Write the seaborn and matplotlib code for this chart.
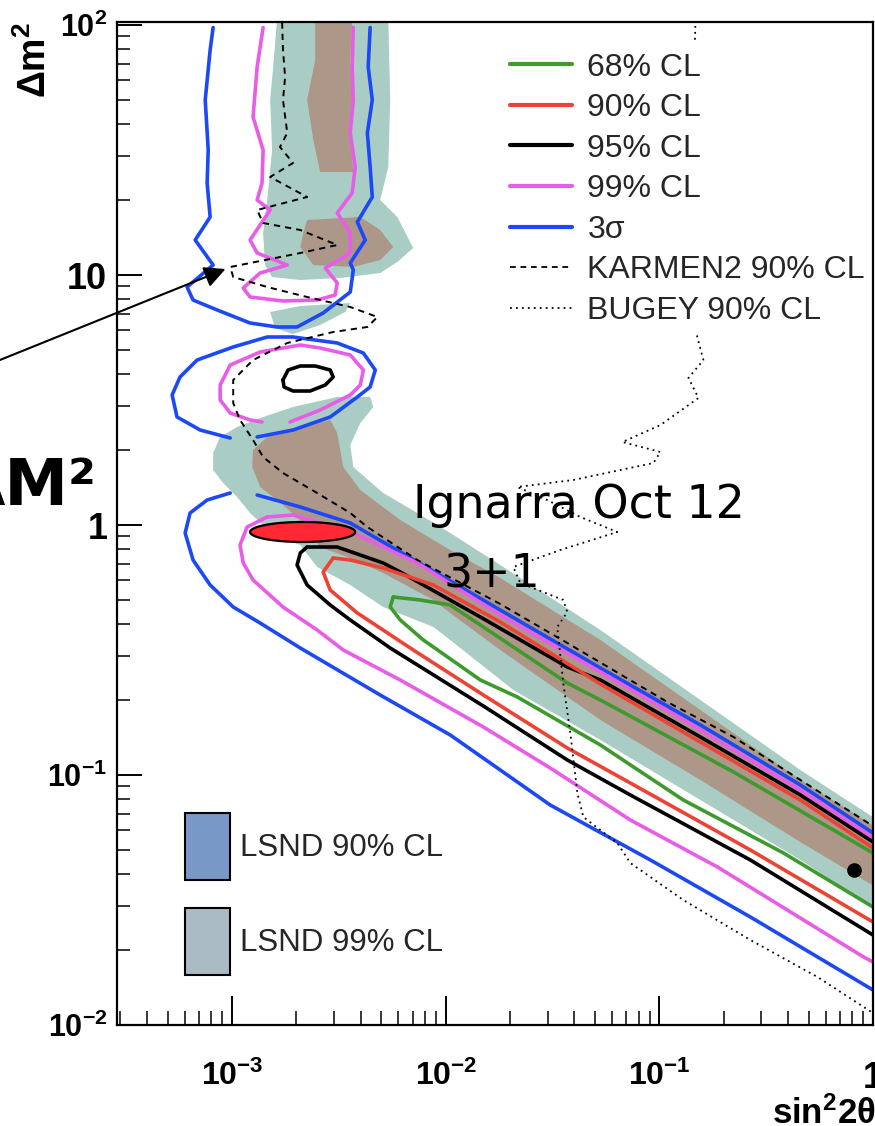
import numpy as np
import matplotlib
matplotlib.use("Agg")
import matplotlib.pyplot as plt
import seaborn as sns
from matplotlib.lines import Line2D
from matplotlib.patches import Patch
from matplotlib.ticker import LogLocator, NullFormatter

# ---------------- data (log10 sin^2 2theta , log10 dm^2) ----------------
blue_top_x = [-3.089,-3.103,-3.126,-3.112,-3.117,-3.103,-3.173,-3.089,-3.211,-3.183,-3.070,-2.916,-2.790,-2.696,-2.574,-2.447,-2.433,-2.447,-2.377,-2.414,-2.344,-2.354,-2.367,-2.344,-2.363,-2.354]
blue_top_y = [1.99,1.90,1.70,1.50,1.368,1.232,1.14,1.04,0.952,0.90,0.86,0.808,0.792,0.792,0.848,0.932,1.02,1.048,1.14,1.212,1.312,1.432,1.568,1.70,1.832,1.99]
blue_mid_x = [-3.009,-3.150,-3.258,-3.281,-3.244,-3.164,-2.995,-2.836,-2.715,-2.681,-2.508,-2.386,-2.330,-2.354,-2.414,-2.541,-2.715,-2.883]
blue_mid_y = [0.348,0.38,0.432,0.52,0.592,0.66,0.712,0.752,0.752,0.748,0.728,0.688,0.62,0.552,0.512,0.432,0.38,0.352]
blue_up_x = [-2.883,-2.681,-2.447,-2.213,-1.745,-1.276,-0.808,-0.340,0.0]
blue_up_y = [0.12,0.072,0.008,-0.108,-0.34,-0.572,-0.8,-1.04,-1.232]
blue_lo_x = [-3.009,-3.117,-3.197,-3.220,-3.183,-3.103,-2.995,-2.869,-2.681,-2.307,-1.979,-1.511,-1.042,-0.574,0.0]
blue_lo_y = [0.128,0.1,0.048,-0.032,-0.14,-0.24,-0.328,-0.392,-0.492,-0.68,-0.84,-1.12,-1.34,-1.568,-1.86]

mag_top_x = [-2.855,-2.883,-2.902,-2.855,-2.860,-2.883,-2.822,-2.916,-2.883,-2.742,-2.869,-2.948,-2.916,-2.762,-2.602,-2.518,-2.508,-2.564,-2.447,-2.447,-2.508,-2.438,-2.424,-2.447,-2.433,-2.438,-2.433]
mag_top_y = [1.99,1.832,1.632,1.5,1.368,1.3,1.26,1.14,1.088,1.04,1.008,0.948,0.912,0.896,0.9,0.92,0.968,1.028,1.088,1.168,1.248,1.328,1.432,1.568,1.7,1.832,1.99]
mag_mid_x = [-2.860,-2.916,-3.009,-3.056,-3.056,-3.009,-2.869,-2.681,-2.588,-2.447,-2.386,-2.400,-2.447,-2.588,-2.729]
mag_mid_y = [0.412,0.42,0.448,0.5,0.56,0.64,0.692,0.72,0.708,0.68,0.62,0.56,0.52,0.46,0.412]
mag_up_x = [-2.836,-2.715,-2.433,-2.133,-1.745,-1.276,-0.808,-0.340,0.0]
mag_up_y = [0.032,0.04,-0.032,-0.152,-0.36,-0.588,-0.82,-1.06,-1.252]
mag_lo_x = [-2.836,-2.930,-2.963,-2.948,-2.902,-2.762,-2.602,-2.480,-2.213,-1.824,-1.511,-1.136,-0.728,-0.044,0.0]
mag_lo_y = [0.032,-0.008,-0.08,-0.152,-0.22,-0.328,-0.42,-0.5,-0.62,-0.808,-0.972,-1.18,-1.368,-1.728,-1.748]

blk_isl_x = [-2.762,-2.738,-2.681,-2.611,-2.541,-2.527,-2.564,-2.635,-2.715,-2.757,-2.762]
blk_isl_y = [0.58,0.62,0.636,0.636,0.62,0.592,0.56,0.536,0.536,0.552,0.58]
blk_up_x = [-2.649,-2.508,-2.293,-2.213,-1.838,-1.431,-1.276,-0.808,-0.340,0.0]
blk_up_y = [-0.088,-0.088,-0.152,-0.188,-0.368,-0.568,-0.62,-0.848,-1.08,-1.268]
blk_lo_x = [-2.649,-2.681,-2.696,-2.649,-2.541,-2.447,-2.260,-1.824,-1.431,-1.136,-0.574,0.0]
blk_lo_y = [-0.088,-0.112,-0.16,-0.24,-0.32,-0.38,-0.492,-0.724,-0.94,-1.08,-1.34,-1.64]

red_up_x = [-2.527,-2.447,-2.293,-2.058,-1.745,-1.276,-0.808,-0.340,0.0]
red_up_y = [-0.132,-0.14,-0.172,-0.24,-0.388,-0.636,-0.868,-1.1,-1.292]
red_lo_x = [-2.527,-2.574,-2.541,-2.414,-2.152,-1.824,-1.431,-1.136,-0.574,0.0]
red_lo_y = [-0.132,-0.188,-0.26,-0.352,-0.5,-0.68,-0.892,-1.032,-1.3,-1.588]

grn_up_x = [-2.246,-2.119,-1.979,-1.838,-1.431,-1.276,-0.653,0.0]
grn_up_y = [-0.288,-0.3,-0.32,-0.4,-0.632,-0.7,-0.988,-1.312]
grn_lo_x = [-2.246,-2.260,-2.213,-2.105,-1.838,-1.665,-1.276,-0.888,-0.419,0.0]
grn_lo_y = [-0.288,-0.328,-0.38,-0.46,-0.62,-0.688,-0.88,-1.1,-1.312,-1.528]

karmen_x = [-2.766,-2.762,-2.752,-2.762,-2.742,-2.776,-2.715,-2.822,-2.649,-2.883,-2.855,-2.681,-2.508,-2.681,-3.009,-2.995,-2.836,-2.649,-2.447,-2.320,-2.367,-2.527,-2.742,-2.902,-2.995,-2.995,-2.963,-2.902,-2.855,-2.762,-2.602,-2.447,-2.367,-2.133,-1.745,-1.431,-0.963,-0.653,-0.340,0.0]
karmen_y = [2.01,1.9,1.792,1.7,1.568,1.512,1.448,1.392,1.312,1.26,1.208,1.18,1.12,1.088,1.032,0.992,0.952,0.912,0.872,0.832,0.792,0.772,0.728,0.66,0.58,0.488,0.42,0.34,0.272,0.208,0.128,0.048,-0.008,-0.14,-0.316,-0.472,-0.708,-0.848,-1.02,-1.204]

bugey_x = [-0.831,-0.841,-0.831,-0.822,-0.831,-0.794,-0.864,-0.817,-0.995,-1.173,-0.995,-1.028,-1.403,-1.665,-1.525,-1.370,-1.197,-1.464,-1.684,-1.651,-1.450,-1.431,-1.478,-1.450,-1.417,-1.384,-1.356,-1.197,-1.136,-0.888,-0.574,-0.260,0.0]
bugey_y = [2.02,1.7,1.3,0.9,0.78,0.66,0.588,0.508,0.4,0.332,0.292,0.248,0.18,0.152,0.1,0.032,-0.028,-0.1,-0.168,-0.232,-0.3,-0.348,-0.408,-0.632,-0.832,-1.072,-1.168,-1.272,-1.352,-1.5,-1.66,-1.808,-1.952]

# LSND allowed regions
lsnd99_top_x = [-2.790,-2.808,-2.822,-2.813,-2.836,-2.855,-2.846,-2.813,-2.681,-2.494,-2.307,-2.227,-2.152,-2.227,-2.307,-2.269,-2.260,-2.269]
lsnd99_top_y = [2.02,1.832,1.7,1.5,1.3,1.168,1.04,0.992,0.98,0.988,1.008,1.052,1.108,1.232,1.3,1.432,1.7,2.02]
lsnd99_mid_x = [-2.822,-2.681,-2.447,-2.471,-2.588,-2.715,-2.799]
lsnd99_mid_y = [0.852,0.876,0.888,0.852,0.8,0.764,0.788]
lsnd99_low_x = [-2.508,-2.354,-2.339,-2.400,-2.447,-2.433,-2.293,-2.133,-1.979,-1.745,-1.276,-0.808,-0.340,0.035,0.035,-0.340,-0.808,-1.276,-1.684,-1.979,-2.058,-2.293,-2.447,-2.602,-2.681,-2.752,-2.846,-2.916,-2.977,-3.042,-3.089,-3.089,-3.056,-2.977,-2.855,-2.715]
lsnd99_low_y = [0.512,0.512,0.472,0.408,0.32,0.232,0.128,0.048,-0.032,-0.16,-0.42,-0.7,-0.98,-1.188,-1.548,-1.34,-1.1,-0.86,-0.66,-0.46,-0.408,-0.328,-0.24,-0.168,-0.08,-0.06,-0.008,0.048,0.112,0.168,0.22,0.288,0.352,0.392,0.432,0.472]
lsnd90_top_x = [-2.611,-2.438,-2.447,-2.433,-2.447,-2.433,-2.588,-2.620,-2.649,-2.611]
lsnd90_top_y = [2.02,2.02,1.86,1.7,1.58,1.412,1.412,1.54,1.7,1.86]
lsnd90_blob_x = [-2.649,-2.400,-2.307,-2.246,-2.307,-2.433,-2.620,-2.681,-2.667]
lsnd90_blob_y = [1.22,1.232,1.18,1.112,1.06,1.032,1.04,1.112,1.168]
lsnd90_low_x = [-2.541,-2.508,-2.480,-2.400,-2.213,-2.058,-1.979,-1.745,-1.276,-0.808,-0.340,0.035,0.035,-0.340,-0.808,-1.276,-1.745,-1.979,-2.058,-2.293,-2.461,-2.588,-2.681,-2.790,-2.869,-2.906,-2.902,-2.836,-2.681]
lsnd90_low_y = [0.42,0.368,0.232,0.14,0.02,-0.06,-0.1,-0.212,-0.46,-0.74,-1.02,-1.22,-1.46,-1.268,-1.02,-0.78,-0.5,-0.352,-0.3,-0.192,-0.128,-0.088,0.02,0.1,0.152,0.232,0.3,0.352,0.392]

best_fit = (-0.091, -1.38)
ellipse_center = (-2.67, -0.028)
ellipse_halfwidth = (0.246, 0.04)

legend_labels = ["68% CL", "90% CL", "95% CL", "99% CL", "3\u03c3", "KARMEN2 90% CL", "BUGEY 90% CL"]
lsnd_labels = ["LSND 90% CL", "LSND 99% CL"]

C_GREEN, C_RED, C_BLACK, C_MAG, C_BLUE = "#3f9a2e", "#ec4434", "#000000", "#e85ce8", "#1c48f6"
C_L99, C_L90 = "#a9cdc4", "#ad9789"

# ---------------- style ----------------
sns.set_theme(style="white")
plt.rcParams['font.family'] = ['Liberation Sans', 'DejaVu Sans']
plt.rcParams['mathtext.fontset'] = 'custom'
plt.rcParams['mathtext.rm'] = 'Liberation Sans:bold'
plt.rcParams['mathtext.bf'] = 'Liberation Sans:bold'
plt.rcParams['mathtext.it'] = 'Liberation Sans:bold'
plt.rcParams['mathtext.sf'] = 'Liberation Sans:bold'
plt.rcParams['mathtext.default'] = 'bf'

W, H = 875, 1126
fig = plt.figure(figsize=(W/100, H/100), dpi=100)
ax = fig.add_axes([117/W, 1-1025/H, 756/W, 1003/H])
ax.set_xscale('log')
ax.set_yscale('log')
ax.set_xlim(10**-3.539, 1.0)
ax.set_ylim(0.01, 10**2.012)

def L(a):
    return 10**np.asarray(a, dtype=float)

# regions
for xs, ys, c in [(lsnd99_top_x, lsnd99_top_y, C_L99), (lsnd99_mid_x, lsnd99_mid_y, C_L99),
                  (lsnd99_low_x, lsnd99_low_y, C_L99), (lsnd90_top_x, lsnd90_top_y, C_L90),
                  (lsnd90_blob_x, lsnd90_blob_y, C_L90), (lsnd90_low_x, lsnd90_low_y, C_L90)]:
    ax.fill(L(xs), L(ys), color=c, lw=0, zorder=1)

def draw(xs, ys, color, lw=2.6, ls='-', z=3):
    sns.lineplot(x=L(xs), y=L(ys), sort=False, estimator=None, color=color,
                 linewidth=lw, linestyle=ls, ax=ax, legend=False, zorder=z)

for xs, ys in [(blue_top_x, blue_top_y), (blue_mid_x, blue_mid_y), (blue_up_x, blue_up_y), (blue_lo_x, blue_lo_y)]:
    draw(xs, ys, C_BLUE)
for xs, ys in [(mag_top_x, mag_top_y), (mag_mid_x, mag_mid_y), (mag_up_x, mag_up_y), (mag_lo_x, mag_lo_y)]:
    draw(xs, ys, C_MAG)
for xs, ys in [(blk_isl_x, blk_isl_y), (blk_up_x, blk_up_y), (blk_lo_x, blk_lo_y)]:
    draw(xs, ys, C_BLACK)
for xs, ys in [(red_up_x, red_up_y), (red_lo_x, red_lo_y)]:
    draw(xs, ys, C_RED)
for xs, ys in [(grn_up_x, grn_up_y), (grn_lo_x, grn_lo_y)]:
    draw(xs, ys, C_GREEN)
draw(karmen_x, karmen_y, 'black', lw=1.4, ls=(0, (3.2, 2.6)), z=4)
draw(bugey_x, bugey_y, 'black', lw=1.3, ls=(0, (1, 2.3)), z=4)

# best fit point
ax.plot(L(best_fit[0]), L(best_fit[1]), 'o', color='black', ms=9.5, zorder=7)

# red ellipse (Ignarra 3+1)
t = np.linspace(0, 2*np.pi, 200)
ax.fill(L(ellipse_center[0] + ellipse_halfwidth[0]*np.cos(t)),
        L(ellipse_center[1] + ellipse_halfwidth[1]*np.sin(t)),
        facecolor='#ff2833', edgecolor='black', lw=1.6, zorder=8)

# ---------------- axes ----------------
for s in ax.spines.values():
    s.set_color('black')
    s.set_linewidth(1.6)
    s.set_zorder(12)
ax.set_xticks([1e-3, 1e-2, 1e-1, 1])
ax.set_xticklabels([r'$10^{-3}$', r'$10^{-2}$', r'$10^{-1}$', '1'])
ax.set_yticks([1e-2, 1e-1, 1, 10, 100])
ax.set_yticklabels([r'$10^{-2}$', r'$10^{-1}$', '1', '10', r'$10^{2}$'])
ax.xaxis.set_minor_locator(LogLocator(base=10, subs=np.arange(2, 10)))
ax.yaxis.set_minor_locator(LogLocator(base=10, subs=np.arange(2, 10)))
ax.xaxis.set_minor_formatter(NullFormatter())
ax.yaxis.set_minor_formatter(NullFormatter())
ax.tick_params(axis='x', which='major', direction='in', length=21, width=1.4, pad=26,
               labelsize=23, colors='black', bottom=True, top=False)
ax.tick_params(axis='x', which='minor', direction='in', length=10, width=1.3, bottom=True, top=False)
ax.tick_params(axis='y', which='major', direction='in', length=18, width=1.4, pad=7,
               labelsize=22, colors='black', left=True, right=False)
ax.tick_params(axis='y', which='minor', direction='in', length=9.5, width=1.3, left=True, right=False)
for lab in ax.get_xticklabels() + ax.get_yticklabels():
    if '$' not in lab.get_text():
        lab.set_fontsize(26)
        lab.set_fontweight('bold')

ax.set_ylabel(r'$\Delta m^{2}$', loc='top', fontsize=27, color='black')
ax.yaxis.set_label_coords(-0.083, 1.0)
ax.set_xlabel(r'$sin^{2}2$' + "\u03b8", loc='right', fontsize=25, fontweight='bold', color='black')
ax.xaxis.set_label_coords(1.004, -0.071)

# ---------------- legends ----------------
handles = [Line2D([], [], color=C_GREEN, lw=3), Line2D([], [], color=C_RED, lw=3),
           Line2D([], [], color=C_BLACK, lw=3), Line2D([], [], color=C_MAG, lw=3),
           Line2D([], [], color=C_BLUE, lw=3),
           Line2D([], [], color='black', lw=1.3, ls=(0, (3.2, 2.6))),
           Line2D([], [], color='black', lw=1.3, ls=(0, (1, 2.3)))]
leg1 = ax.legend(handles, legend_labels, loc='upper left',
                 bbox_to_anchor=(500.6/W, 1-43/H), bbox_transform=fig.transFigure,
                 frameon=True, facecolor='white', edgecolor='none', framealpha=1,
                 fancybox=False, fontsize=23, handlelength=1.95, handletextpad=0.47,
                 labelspacing=0.33, borderpad=0.3, borderaxespad=0)
leg1.set_zorder(10)
ax.add_artist(leg1)
lsnd_handles = [Patch(facecolor='#7898c8', edgecolor='black', lw=1.5),
                Patch(facecolor='#aabbc3', edgecolor='black', lw=1.5)]
leg2 = ax.legend(lsnd_handles, lsnd_labels, loc='upper left',
                 bbox_to_anchor=(185/W, 1-813/H), bbox_transform=fig.transFigure,
                 frameon=False, fontsize=22.5, handlelength=1.44, handleheight=2.92,
                 handletextpad=0.32, labelspacing=0.9, borderpad=0, borderaxespad=0)
leg2.set_zorder(10)

# ---------------- annotations ----------------
fig.text(97/W, 1-505/H, "\u0394M\u00b2", ha='right', va='baseline', fontsize=46,
         fontweight='bold', family='DejaVu Sans', color='black')
fig.text(413/W, 1-518/H, "Ignarra Oct 12", ha='left', va='baseline', fontsize=33,
         family='DejaVu Sans', color='black', zorder=9)
fig.text(443/W, 1-587/H, "3+1", ha='left', va='baseline', fontsize=33,
         family='DejaVu Sans', color='black', zorder=9)
ax.annotate("", xy=(L(-3.019), L(1.028)), xycoords='data',
            xytext=(-10, H-364), textcoords='figure pixels',
            arrowprops=dict(arrowstyle='-|>', color='black', lw=1.5, mutation_scale=32),
            annotation_clip=False, zorder=9)

fig.savefig("out.png", dpi=100)
